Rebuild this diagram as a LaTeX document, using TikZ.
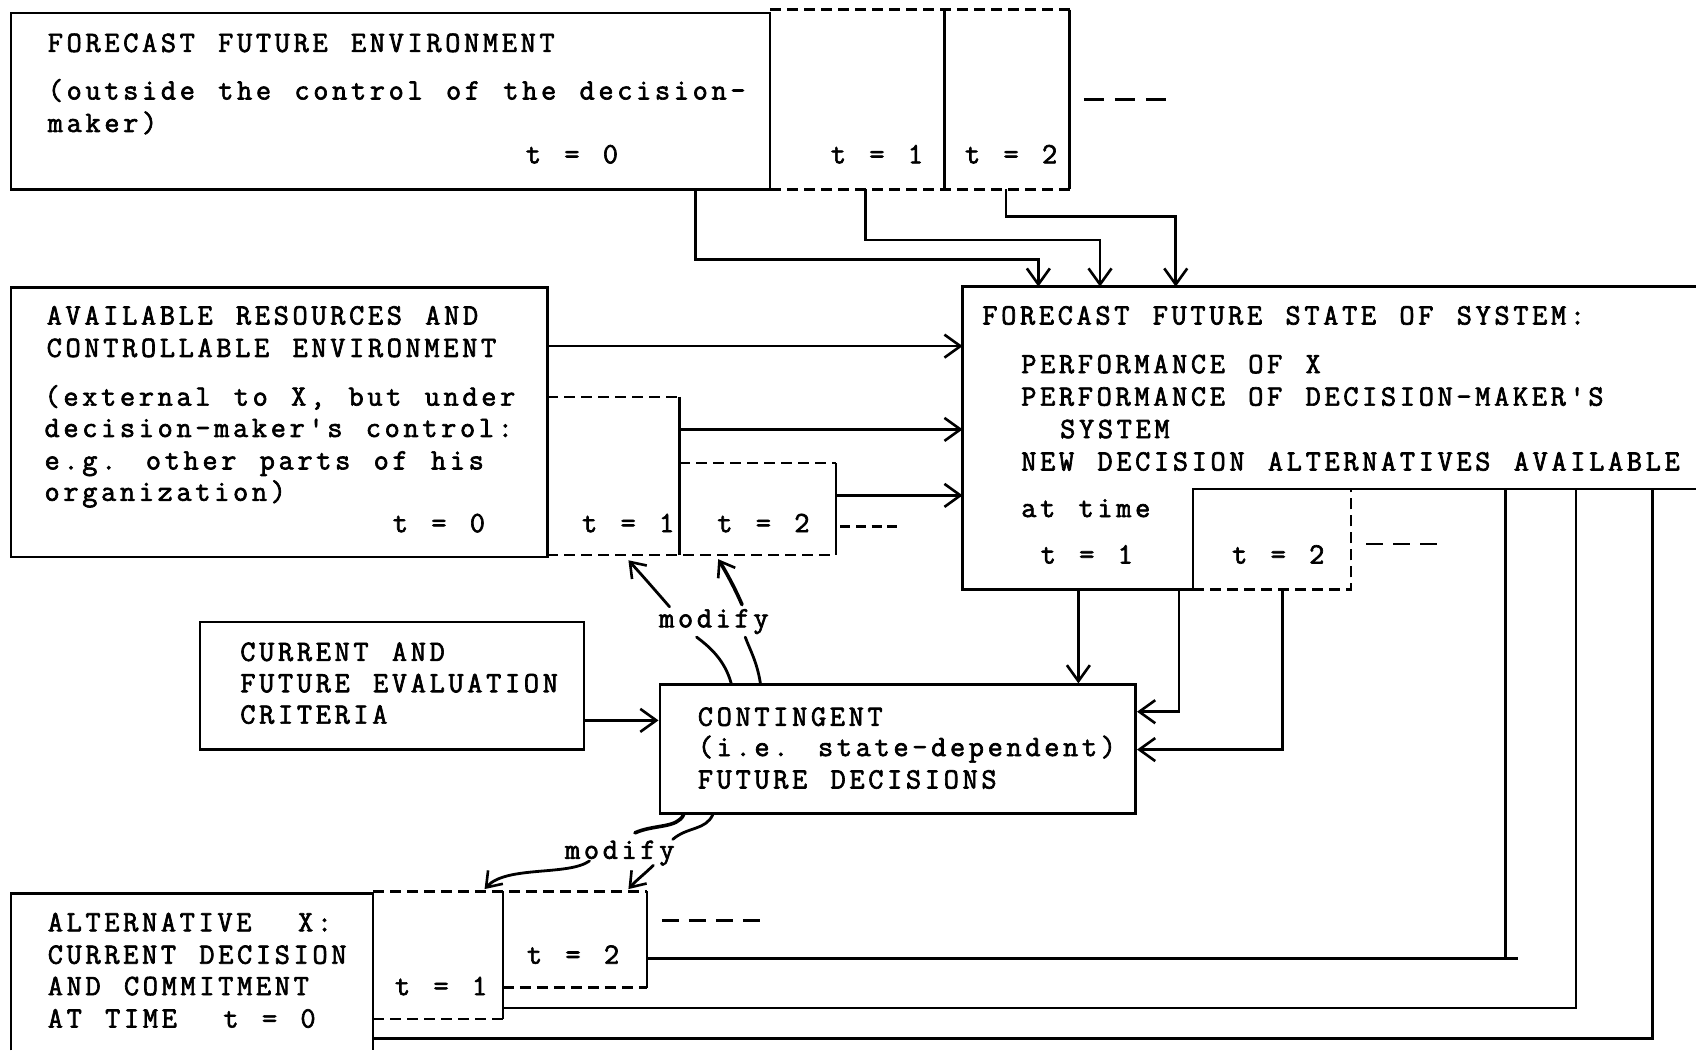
\documentclass[tikz,border=0pt]{standalone}
\usepackage{fontspec}
\newfontfamily\tw{Latin Modern Mono}[LetterSpace=12.4,WordSpace=1.236,FakeBold=2.2]
\usetikzlibrary{arrows.meta,fit}
\begin{document}
\begin{tikzpicture}[x=1.0816pt,y=-1.0816pt,
  txt/.style={anchor=base west, inner sep=0pt, font=\tw\fontsize{29.5}{32}\selectfont},
  ln/.style={line width=2.6pt},
  dsh/.style={line width=2.6pt, dash pattern=on 11pt off 6pt},
  gap/.style={line width=2.6pt, dash pattern=on 17pt off 10pt},
  arr/.style={line width=2.6pt, -{Straight Barb[length=16pt,width=23pt,line width=2.6pt]}},
  mod/.style={line width=2.8pt, line cap=round},
  modarr/.style={mod, -{Straight Barb[length=14pt,width=20pt,line width=2.6pt]}},
  box/.style={draw, line width=2.6pt, inner sep=0pt},
]
\useasboundingbox (0,0) rectangle (1568,971);

% ---------- Box A: forecast future environment ----------
\node[box, fit={(10,12)(712,175)}] (A) {};
\draw[dsh] (712,9) -- (989,9);
\draw[dsh] (712,175) -- (989,175);
\draw[ln] (873,9) -- (873,175);
\draw[ln] (989,9) -- (989,175);
\draw[gap, dash pattern=on 20pt off 11pt] (1002,92) -- (1078,92);
\node[txt] (a1t) at (44,48) {FORECAST FUTURE ENVIRONMENT};
\node[txt] (a2t) at (44,92) {(outside the control of the decision-};
\node[txt] (a3t) at (44,122) {maker)};
\node[txt] (a4t) at (486,151) {t = 0};
\node[txt] (a5t) at (768,151) {t = 1};
\node[txt] (a6t) at (892,151) {t = 2};

% ---------- Box B: available resources ----------
\node[box, fit={(10,266)(506,515)}] (B) {};
\draw[dsh] (506,367) -- (628,367);
\draw[ln] (628,367) -- (628,513);
\draw[dsh] (506,513) -- (773,513);
\draw[dsh] (628,428) -- (773,428);
\draw[ln] (773,428) -- (773,513);
\draw[dsh, dash pattern=on 10pt off 5.6pt] (777,487) -- (830,487);
\node[txt] (b1t) at (43,300) {AVAILABLE RESOURCES AND};
\node[txt] (b2t) at (43,330) {CONTROLLABLE ENVIRONMENT};
\node[txt] (b3t) at (41,375) {(external to X, but under};
\node[txt] (b4t) at (41,404) {decision-maker's control:};
\node[txt] (b5t) at (41,434) {e.g. other parts of his};
\node[txt] (b6t) at (41,463) {organization)};
\node[txt] (b7t) at (363,492) {t = 0};
\node[txt] (b8t) at (538,492) {t = 1};
\node[txt] (b9t) at (663,492) {t = 2};

% ---------- Box C: forecast future state of system ----------
\coordinate (Ctl) at (890,265);
\coordinate (Ctr) at (1568,265);
\coordinate (Cbl) at (890,545);
\coordinate (Cn) at (1103,545);
\coordinate (Ck) at (1103,452);
\coordinate (Cbr) at (1568,452);
\draw[ln] (Ctr) -- (Ctl) -- (Cbl) -- (Cn) -- (Ck) -- (Cbr);
\draw[dsh] (Cn) -- (1249,545) -- (1249,452);
\draw[gap] (1263,503) -- (1331,503);
\node[txt] (c1t) at (908,300) {FORECAST FUTURE STATE OF SYSTEM:};
\node[txt] (c2t) at (944,345) {PERFORMANCE OF X};
\node[txt] (c3t) at (944,375) {PERFORMANCE OF DECISION-MAKER'S};
\node[txt] (c4t) at (980,405) {SYSTEM};
\node[txt] (c5t) at (944,435) {NEW DECISION ALTERNATIVES AVAILABLE};
\node[txt] (c6t) at (944,478) {at time};
\node[txt] (c7t) at (962,521) {t = 1};
\node[txt] (c8t) at (1139,521) {t = 2};

% ---------- Box D: evaluation criteria ----------
\node[box, fit={(185,575)(540,693)}] (D) {};
\node[txt] (d1t) at (222,611) {CURRENT AND};
\node[txt] (d2t) at (222,640) {FUTURE EVALUATION};
\node[txt] (d3t) at (222,669) {CRITERIA};

% ---------- Box E: contingent future decisions ----------
\node[box, fit={(610,633)(1050,752)}] (E) {};
\node[txt] (e1t) at (645,671) {CONTINGENT};
\node[txt] (e2t) at (645,699) {(i.e. state-dependent)};
\node[txt] (e3t) at (645,729) {FUTURE DECISIONS};

% ---------- Box F: alternative X ----------
\coordinate (Fbl) at (10,971);
\coordinate (Ftl) at (10,826);
\coordinate (Ftr) at (345,826);
\coordinate (Fbr) at (345,971);
\draw[ln] (Fbl) -- (Ftl) -- (Ftr) -- (Fbr);
\draw[dsh] (345,824) -- (598,824);
\draw[ln] (465,824) -- (465,942);
\draw[dsh] (345,942) -- (465,942);
\draw[ln] (598,824) -- (598,913);
\draw[dsh] (465,913) -- (598,913);
\draw[gap] (612,851) -- (703,851);
\node[txt] (f1t) at (44,861) {ALTERNATIVE\ \ X:};
\node[txt] (f2t) at (44,891) {CURRENT DECISION};
\node[txt] (f3t) at (44,920) {AND COMMITMENT};
\node[txt] (f4t) at (44,950) {AT TIME\ \ t = 0};
\node[txt] (f5t) at (365,920) {t = 1};
\node[txt] (f6t) at (487,891) {t = 2};

% ---------- connectors into C ----------
\coordinate (ca) at (960,265);
\coordinate (cb) at (1017,265);
\coordinate (cc) at (1087,265);
\draw[arr] (A.south -| 643,0) -- (643,240) -| (ca);
\draw[arr] (800,175) -- (800,222) -| (cb);
\draw[arr] (930,175) -- (930,200) -| (cc);
\draw[arr] (B.east |- 0,320) -- (Ctl |- 0,320);
\draw[arr] (628,397) -- (Ctl |- 0,397);
\draw[arr] (773,458) -- (Ctl |- 0,458);

% ---------- connectors into E ----------
\draw[arr, line width=3.2pt] (D.east |- 0,666) -- (E.west |- 0,666);
\draw[arr] (997,545) -- (E.north -| 997,0);
\draw[arr] (1090,545) |- (E.east |- 0,658);
\draw[arr, line width=3pt] (1186,545) |- (E.east |- 0,693);

% ---------- feedback lines C -> F ----------
\draw[ln] (Ck -| 1392,0) -- (1392,886);
\draw[ln] (1403,886) -- (598,886);
\draw[ln] (Ck -| 1457,0) |- (465,932);
\draw[ln] (Ck -| 1528,0) |- (Fbr |- 0,960);

% ---------- modify (upper) ----------
\node[txt, anchor=base] (m1) at (660,580) {modify};
\draw[mod] (E.north -| 676,0) .. controls (670,610) and (656,598) .. (644,589);
\draw[modarr] (619,561) .. controls (606,546) and (592,530) .. (581,518);
\draw[mod] (E.north -| 703,0) .. controls (700,612) and (693,600) .. (689,589);
\draw[modarr, line width=3.6pt] (686,559) .. controls (680,545) and (672,530) .. (664,517);

% ---------- modify (lower) ----------
\node[txt, anchor=base] (m2) at (573,794) {modify};
\draw[mod, line width=3.6pt] (E.south -| 632,0) .. controls (626,766) and (605,762) .. (587,770);
\draw[modarr] (545,796) .. controls (525,810) and (468,800) .. (448,822);
\draw[mod] (E.south -| 659,0) .. controls (652,768) and (636,764) .. (622,776);
\draw[modarr] (604,800) .. controls (596,808) and (588,814) .. (581,822);
\end{tikzpicture}
\end{document}
